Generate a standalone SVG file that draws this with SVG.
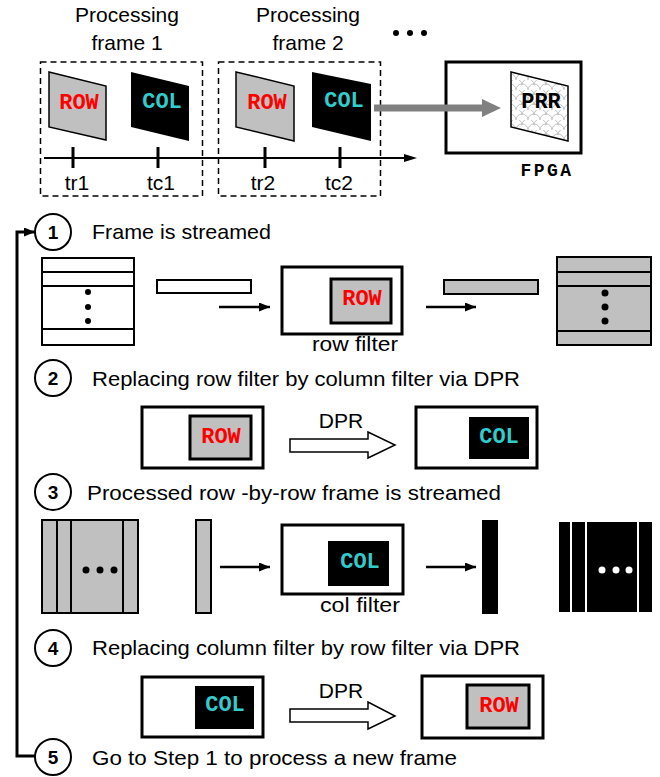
<svg xmlns="http://www.w3.org/2000/svg" width="660" height="777" viewBox="0 0 660 777">
<defs>
<style>
.t{font-family:"Liberation Sans",Arial,sans-serif;font-size:21px;fill:#000}
.m{font-family:"Liberation Mono","Courier New",monospace;font-weight:bold;font-size:22px;text-anchor:middle}
.row{fill:#ff0000}
.col{fill:#33cccc}
.g{fill:#c0c0c0;stroke:#000;stroke-width:1.5}
.gb{fill:#c0c0c0;stroke:#000;stroke-width:3}
.box{fill:#fff;stroke:#000;stroke-width:3}
.fr{stroke:#000;stroke-width:2}
.dash{fill:none;stroke:#000;stroke-width:1.5;stroke-dasharray:6 4}
.ln{stroke:#000;stroke-width:2.5;fill:none}
.circ{fill:#fff;stroke:#000;stroke-width:2}
.num{font-family:"Liberation Sans",Arial,sans-serif;font-weight:bold;font-size:19px;text-anchor:middle}
.hol{fill:#fff;stroke:#000;stroke-width:1.5}
</style>
<marker id="ah" markerWidth="11" markerHeight="9" refX="11" refY="4.5" orient="auto" markerUnits="userSpaceOnUse"><path d="M0,0 L11,4.5 L0,9 Z" fill="#000"/></marker>
<pattern id="scl" width="12" height="10" patternUnits="userSpaceOnUse"><rect width="12" height="10" fill="#fff"/><path d="M0,10 A6,6 0 0 1 12,10 M-6,5 A6,6 0 0 1 6,5 M6,5 A6,6 0 0 1 18,5" stroke="#c0c0c0" stroke-width="1" fill="none"/></pattern>
</defs>

<!-- Top timeline section -->
<g id="frame1">
<text class="t" x="127" y="22" text-anchor="middle">Processing</text>
<text class="t" x="127" y="50" text-anchor="middle">frame 1</text>
<rect class="dash" x="40.5" y="62" width="162" height="134"/>
<polygon class="g" points="49,72 106,86 106,140 49,127"/>
<text class="m row" x="79" y="109">ROW</text>
<polygon points="131,72 189,86 189,141 131,127" fill="#000"/>
<text class="m col" x="162" y="108">COL</text>
</g>
<g id="frame2">
<text class="t" x="308" y="22" text-anchor="middle">Processing</text>
<text class="t" x="308" y="50" text-anchor="middle">frame 2</text>
<rect class="dash" x="218.5" y="62" width="162" height="134"/>
<polygon class="g" points="236,72 294,86 294,141 236,127"/>
<text class="m row" x="267" y="109">ROW</text>
<polygon points="312,72 371,84 371,141 312,127" fill="#000"/>
<text class="m col" x="344" y="107">COL</text>
</g>
<g id="more">
<circle cx="396" cy="33" r="3"/><circle cx="410" cy="33" r="3"/><circle cx="424" cy="33" r="3"/>
</g>
<g id="timeline">
<line x1="44" y1="158" x2="408" y2="158" stroke="#000" stroke-width="2"/>
<polygon points="404,154 417,158 404,162" fill="#000"/>
<g stroke="#000" stroke-width="3">
<line x1="73" y1="147" x2="73" y2="168"/><line x1="158" y1="147" x2="158" y2="168"/>
<line x1="265" y1="147" x2="265" y2="168"/><line x1="340" y1="147" x2="340" y2="168"/>
</g>
<text class="t" x="77" y="190" text-anchor="middle">tr1</text>
<text class="t" x="161" y="190" text-anchor="middle">tc1</text>
<text class="t" x="263" y="190" text-anchor="middle">tr2</text>
<text class="t" x="339" y="190" text-anchor="middle">tc2</text>
</g>
<g id="fpga">
<rect x="446" y="62" width="135" height="91" fill="#fff" stroke="#000" stroke-width="3"/>
<polygon points="511,72 568,86 568,141 511,127" fill="url(#scl)" stroke="#000" stroke-width="1.5"/>
<text class="m" x="541" y="108" fill="#000">PRR</text>
<text x="547" y="176" font-family="Liberation Mono, Courier New, monospace" font-weight="bold" font-size="18" letter-spacing="2.5" text-anchor="middle">FPGA</text>
</g>
<g id="load-arrow">
<line x1="374" y1="108" x2="484" y2="108" stroke="#808080" stroke-width="7"/>
<polygon points="482,99 501,108 482,117" fill="#808080"/>
</g>

<!-- Steps -->
<g id="step1">
<circle class="circ" cx="53" cy="232" r="18"/>
<text class="num" x="53" y="239">1</text>
<text class="t" x="92" y="239" textLength="179" lengthAdjust="spacingAndGlyphs">Frame is streamed</text>
<g id="frame-in">
<rect class="fr" x="42" y="258" width="92" height="87" fill="#fff"/>
<line class="fr" x1="42" y1="272" x2="134" y2="272"/>
<line class="fr" x1="42" y1="286" x2="134" y2="286"/>
<line class="fr" x1="42" y1="329" x2="134" y2="329"/>
<circle cx="88" cy="292" r="3"/><circle cx="88" cy="307" r="3"/><circle cx="88" cy="321" r="3"/>
</g>
<rect class="fr" x="157" y="280" width="94" height="13" fill="#fff"/>
<g id="row-filter">
<rect class="box" x="282" y="267" width="120" height="67"/>
<rect class="gb" x="331" y="279" width="60" height="44"/>
<text class="m row" x="362" y="305">ROW</text>
<text class="t" x="312" y="351" textLength="86" lengthAdjust="spacingAndGlyphs">row  filter</text>
</g>
<rect class="fr" x="444" y="280" width="94" height="14" fill="#c0c0c0"/>
<g id="frame-out">
<rect class="fr" x="557" y="257" width="94" height="88" fill="#c0c0c0"/>
<line class="fr" x1="557" y1="272" x2="651" y2="272"/>
<line class="fr" x1="557" y1="286" x2="651" y2="286"/>
<line class="fr" x1="557" y1="331" x2="651" y2="331"/>
<circle cx="605" cy="293" r="3.5"/><circle cx="605" cy="307" r="3.5"/><circle cx="605" cy="321" r="3.5"/>
</g>
</g>

<g id="step2">
<circle class="circ" cx="53" cy="378" r="18"/>
<text class="num" x="53" y="385">2</text>
<text class="t" x="92" y="386" textLength="428" lengthAdjust="spacingAndGlyphs">Replacing row  filter by column filter via DPR</text>
<rect class="box" x="142" y="407" width="121" height="61"/>
<rect class="gb" x="190" y="416" width="61" height="43"/>
<text class="m row" x="221" y="443">ROW</text>
<text class="t" x="341" y="428" text-anchor="middle">DPR</text>
<polygon class="hol" points="290,439 368,439 368,432 395,445 368,458 368,452 290,452"/>
<rect class="box" x="416" y="407" width="121" height="61"/>
<rect x="469" y="417" width="60" height="42" fill="#000"/>
<text class="m col" x="499" y="443">COL</text>
</g>

<g id="step3">
<circle class="circ" cx="53" cy="492" r="18"/>
<text class="num" x="53" y="499">3</text>
<text class="t" x="87" y="500" textLength="414" lengthAdjust="spacingAndGlyphs">Processed row -by-row  frame is streamed</text>
<g id="col-frame-in">
<rect class="fr" x="42" y="520" width="96" height="93" fill="#c0c0c0"/>
<line class="fr" x1="57" y1="520" x2="57" y2="613"/>
<line class="fr" x1="71" y1="520" x2="71" y2="613"/>
<line class="fr" x1="123" y1="520" x2="123" y2="613"/>
<circle cx="86" cy="570" r="3.5"/><circle cx="100" cy="570" r="3.5"/><circle cx="114" cy="570" r="3.5"/>
</g>
<rect class="fr" x="196" y="520" width="15" height="93" fill="#c0c0c0"/>
<g id="col-filter">
<rect class="box" x="282" y="525" width="121" height="69"/>
<rect x="328" y="541" width="61" height="45" fill="#000"/>
<text class="m col" x="360" y="568">COL</text>
<text class="t" x="320" y="612" textLength="80" lengthAdjust="spacingAndGlyphs">col filter</text>
</g>
<rect x="482" y="520" width="16" height="94" fill="#000"/>
<g id="col-frame-out">
<rect x="559" y="522" width="93" height="90" fill="#000"/>
<line x1="571" y1="522" x2="571" y2="612" stroke="#fff" stroke-width="2"/>
<line x1="586" y1="522" x2="586" y2="612" stroke="#fff" stroke-width="2"/>
<line x1="638" y1="522" x2="638" y2="612" stroke="#fff" stroke-width="2"/>
<circle cx="602" cy="570" r="3.5" fill="#fff"/><circle cx="616" cy="570" r="3.5" fill="#fff"/><circle cx="629" cy="570" r="3.5" fill="#fff"/>
</g>
</g>

<g id="step4">
<circle class="circ" cx="53" cy="648" r="18"/>
<text class="num" x="53" y="655">4</text>
<text class="t" x="92" y="655" textLength="428" lengthAdjust="spacingAndGlyphs">Replacing column filter by row  filter via DPR</text>
<rect class="box" x="142" y="677" width="121" height="60"/>
<rect x="195" y="686" width="59" height="43" fill="#000"/>
<text class="m col" x="225" y="711">COL</text>
<text class="t" x="341" y="698" text-anchor="middle">DPR</text>
<polygon class="hol" points="290,709 368,709 368,702 395,716 368,729 368,722 290,722"/>
<rect class="box" x="422" y="676" width="121" height="62"/>
<rect class="gb" x="467" y="685" width="62" height="43"/>
<text class="m row" x="499" y="712">ROW</text>
</g>

<g id="step5">
<circle class="circ" cx="53" cy="757" r="18"/>
<text class="num" x="53" y="764">5</text>
<text class="t" x="92" y="765" textLength="365" lengthAdjust="spacingAndGlyphs">Go to Step 1 to process a new  frame</text>
</g>

<g id="connectors">
<path class="ln" d="M219,307 L270,307" marker-end="url(#ah)"/>
<path class="ln" d="M426,307 L476,307" marker-end="url(#ah)"/>
<path class="ln" d="M220,567 L270,567" marker-end="url(#ah)"/>
<path class="ln" d="M426,567 L476,567" marker-end="url(#ah)"/>
<path d="M35,756 L17,756 L17,232 L35,232" fill="none" stroke="#000" stroke-width="3" marker-end="url(#ah)"/>
</g>
</svg>
